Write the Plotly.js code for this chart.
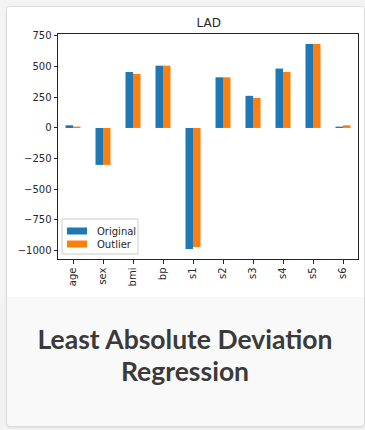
<!DOCTYPE html>
<html>
<head>
<meta charset="utf-8">
<script src="https://cdn.plot.ly/plotly-3.0.1.min.js"></script>
<style>
  html, body { margin: 0; padding: 0; width: 365px; height: 430px; overflow: hidden; background: #f3f3f3; }
  #card { position: absolute; left: 6px; top: 6px; width: 357px; height: 419px; border: 1px solid #dcdcdc; border-radius: 4px; background: #f9f9f9; box-shadow: 0 1px 2px rgba(0,0,0,0.08); overflow: hidden; }
  #imgbg { position: absolute; left: 0; top: 0; width: 357px; height: 290px; background: #ffffff; }
  #chart { position: absolute; left: 0; top: 0; width: 365px; height: 297px; }
  #caption { position: absolute; left: 6px; top: 323px; width: 358px; text-align: center; font-family: Lato, "Open Sans", sans-serif; font-weight: 700; font-size: 26.5px; line-height: 32px; color: #3a3a3a; }
</style>
</head>
<body>
<div id="card"><div id="imgbg"></div></div>
<div id="chart"></div>
<div id="caption">Least Absolute Deviation<br>Regression</div>
<script>
const categories = ['age', 'sex', 'bmi', 'bp', 's1', 's2', 's3', 's4', 's5', 's6'];
const originalValues = [22, -301, 456, 508, -987, 413, 262, 484, 685, 11];
const outlierValues = [12, -301, 441, 508, -970, 413, 245, 457, 685, 22];
const yTickValues = [750, 500, 250, 0, -250, -500, -750, -1000];
const seriesNames = ['Original', 'Outlier'];
const seriesColors = ['#1f77b4', '#ff7f0e'];

const axisColor = '#262626';
const tickFont = { family: 'DejaVu Sans, sans-serif', size: 10, color: '#262626' };

const data = [
  { type: 'bar', name: seriesNames[0], x: categories, y: originalValues, marker: { color: seriesColors[0] } },
  { type: 'bar', name: seriesNames[1], x: categories, y: outlierValues, marker: { color: seriesColors[1] } }
];

// compact matplotlib-style legend (box, patches, labels) in paper coordinates
const plotLeft = 58, plotTop = 34, plotW = 300, plotH = 225;
const px = v => (v - plotLeft) / plotW;
const py = v => (plotTop + plotH - v) / plotH;
const legendShapes = [
  { type: 'rect', xref: 'paper', yref: 'paper', x0: px(62), x1: px(138), y0: py(254), y1: py(219),
    line: { color: '#cccccc', width: 1 }, fillcolor: 'rgba(255,255,255,0.85)', layer: 'above' }
];
const legendAnnotations = [];
const rowCenters = [231, 244];
seriesNames.forEach((name, i) => {
  legendShapes.push({ type: 'rect', xref: 'paper', yref: 'paper', x0: px(67), x1: px(87),
    y0: py(rowCenters[i] + 3.5), y1: py(rowCenters[i] - 3.5), line: { width: 0 }, fillcolor: seriesColors[i], layer: 'above' });
  legendAnnotations.push({ xref: 'paper', yref: 'paper', x: px(95), y: py(rowCenters[i]), xanchor: 'left', yanchor: 'middle',
    text: name, showarrow: false, font: { family: 'DejaVu Sans, sans-serif', size: 10, color: '#262626' } });
});

const layout = {
  width: 365, height: 297,
  margin: { l: 58, r: 7, t: 34, b: 38, pad: 0 },
  paper_bgcolor: 'rgba(0,0,0,0)',
  plot_bgcolor: '#ffffff',
  barmode: 'group', bargap: 0.5, bargroupgap: 0,
  title: { text: 'LAD', font: { family: 'DejaVu Sans, sans-serif', size: 12, color: '#262626' }, x: 0.572, xanchor: 'center', y: 1 - 23 / 297, yref: 'container', yanchor: 'middle' },
  showlegend: false,
  shapes: legendShapes,
  annotations: legendAnnotations,
  xaxis: {
    type: 'category', range: [-0.5, 9.5],
    showline: true, mirror: true, linecolor: axisColor, linewidth: 1,
    ticks: 'outside', ticklen: 3.5, tickcolor: axisColor, tickwidth: 1,
    tickangle: -90, tickfont: tickFont, showgrid: false, zeroline: false, fixedrange: true
  },
  yaxis: {
    range: [-1068, 766],
    tickvals: yTickValues,
    showline: true, mirror: true, linecolor: axisColor, linewidth: 1,
    ticks: 'outside', ticklen: 3.5, tickcolor: axisColor, tickwidth: 1,
    tickfont: tickFont, showgrid: false, zeroline: false, fixedrange: true
  }
};

Plotly.newPlot('chart', data, layout, { displayModeBar: false, staticPlot: true });
</script>
</body>
</html>
